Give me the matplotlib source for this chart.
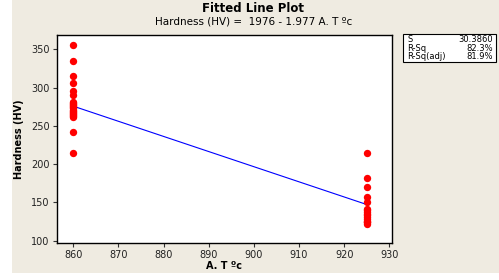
import matplotlib
matplotlib.use("Agg")
import matplotlib.pyplot as plt
from matplotlib.patches import Rectangle
import numpy as np

# Data
temp_860 = [860] * 23
hard_860 = [355, 335, 315, 306, 296, 290, 281, 280, 278, 277, 276, 275, 273, 271,
            270, 268, 267, 265, 264, 263, 262, 242, 214]
temp_925 = [925] * 16
hard_925 = [215, 182, 170, 157, 150, 142, 140, 137, 135, 133, 131, 128, 126, 125,
            124, 122]
intercept = 1976
slope = -1.977
stats_labels = ["S", "R-Sq", "R-Sq(adj)"]
stats_values = ["30.3860", "82.3%", "81.9%"]
xticks = [860, 870, 880, 890, 900, 910, 920, 930]
yticks = [100, 150, 200, 250, 300, 350]

W, H = 499, 280
fig = plt.figure(figsize=(W / 100, H / 100), dpi=100)
fig.patch.set_facecolor("white")
bg = "#EFEBE1"
fig.patches.append(Rectangle((12 / W, 1 - 273 / H), 1 - 12 / W, 273 / H,
                             transform=fig.transFigure, facecolor=bg,
                             edgecolor="none", zorder=-10))

ax = fig.add_axes([56.5 / W, 1 - 243 / H, (392 - 56.5) / W, (243 - 35) / H])
ax.set_facecolor("white")

x = np.array(temp_860 + temp_925)
y = np.array(hard_860 + hard_925)
ax.plot(x, y, "o", color="#FF0000", markersize=5.3, markeredgewidth=0, zorder=3)
xl = np.array([min(x), max(x)])
ax.plot(xl, intercept + slope * xl, color="#0000FF", linewidth=0.8, zorder=2)

ax.set_xlim(856.3, 930.6)
ax.set_ylim(97, 368.7)
ax.set_xticks(xticks)
ax.set_yticks(yticks)
ax.tick_params(labelsize=7, length=3, width=0.8, color="#333333",
               labelcolor="#222222", pad=2)
for s in ax.spines.values():
    s.set_linewidth(1.0)
    s.set_color("black")

ax.set_xlabel("A. T ºc", fontsize=7, fontweight="bold", labelpad=1)
ax.set_ylabel("Hardness (HV)", fontsize=7, fontweight="bold", labelpad=5)

fig.text(253 / W, 1 - 8 / H, "Fitted Line Plot", ha="center", va="center",
         fontsize=8.5, fontweight="bold")
fig.text(254 / W, 1 - 21 / H, "Hardness (HV) =  1976 - 1.977 A. T ºc",
         ha="center", va="center", fontsize=7.5)

# stats box
bx0, by0, bx1, by1 = 403, 34, 496, 62
fig.patches.append(Rectangle((bx0 / W, 1 - by1 / H), (bx1 - bx0) / W,
                             (by1 - by0) / H, transform=fig.transFigure,
                             facecolor="white", edgecolor="black",
                             linewidth=0.8))
for i, (lab, val) in enumerate(zip(stats_labels, stats_values)):
    yy = 1 - (39.5 + i * 8.7) / H
    fig.text(407 / W, yy, lab, ha="left", va="center", fontsize=6)
    fig.text(493 / W, yy, val, ha="right", va="center", fontsize=6)

fig.savefig("out.png", dpi=100, facecolor=fig.get_facecolor())
